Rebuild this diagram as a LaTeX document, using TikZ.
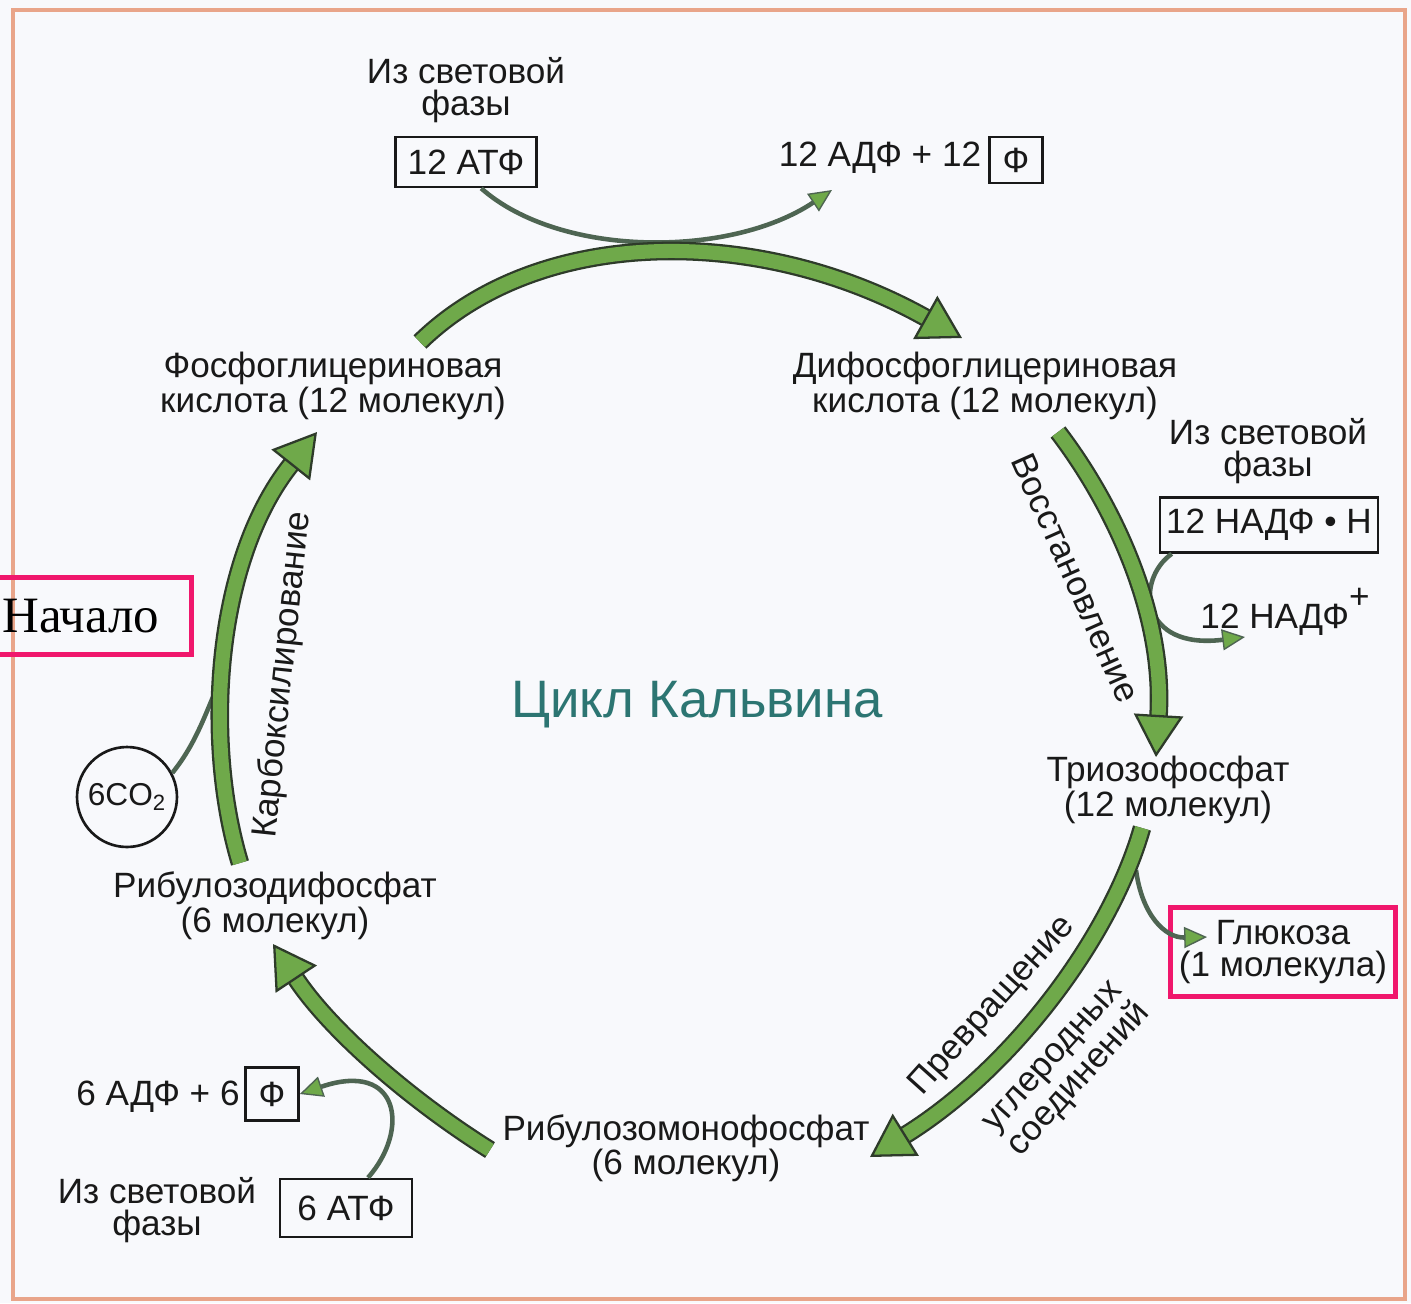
\documentclass[tikz,border=0pt]{standalone}
\usepackage{fontspec}
\setmainfont{Liberation Sans}
\newfontfamily\serifstart{Liberation Serif}
\usetikzlibrary{arrows.meta}
\definecolor{bandgreen}{HTML}{6FA94A}
\definecolor{bandedge}{HTML}{2E3B2A}
\definecolor{sidegray}{HTML}{4E6552}
\definecolor{cycleteal}{HTML}{2C7572}
\definecolor{markpink}{HTML}{F0176C}
\definecolor{framesalmon}{HTML}{E9A58A}
\definecolor{paper}{HTML}{F8F9FC}

\begin{document}
\begin{tikzpicture}[
        x=0.02cm,
        y=-0.02cm,
        every node/.style={font=\fontsize{20}{18}\selectfont, text=black!90},
        compound/.style={
            align=center,
            inner sep=1pt
        },
        energybox/.style={
            draw=black!90,
            line width=1.5pt,
            inner sep=0pt,
            minimum height=1cm
        },
        bigarrow/.style={
            draw=bandedge,
            line width=1.3pt,
            double=bandgreen,
            double distance=8pt,
            -{Triangle[length=24pt, width=28pt, fill=bandgreen,
              color=bandedge, line width=1.3pt]}
        },
        sidearrow/.style={
            draw=sidegray,
            line width=2.6pt,
            -{Triangle[length=13pt, width=12pt, fill=bandgreen,
              color=sidegray, line width=0.8pt]}
        },
        coline/.style={
            draw=sidegray,
            line width=2.6pt
        }
    ]
        \useasboundingbox (0,0) rectangle (1411,1303);
        \fill[paper] (0,0) rectangle (1411,1303);
        \draw[framesalmon, line width=2pt] (13,10) rectangle (1405,1299);

        % Top: ATP from the light phase
        \node[compound] (light1) at (466,90) {Из световой\\фазы};
        \node[energybox, minimum width=2.82cm] (atp12) at (466,162) {12 АТФ};
        \node[compound] (adp12) at (880,158) {12 АДФ + 12};
        \node[energybox, minimum width=1.06cm, minimum height=0.92cm]
            (phi12) at (1016,160) {Ф};

        % Compounds of the cycle
        \node[compound] (pga) at (333,386)
            {Фосфоглицериновая\\кислота (12 молекул)};
        \node[compound] (dpga) at (985,386)
            {Дифосфоглицериновая\\кислота (12 молекул)};
        \node[compound] (triose) at (1168,790)
            {Триозофосфат\\(12 молекул)};
        \node[compound] (rump) at (686,1148)
            {Рибулозомонофосфат\\(6 молекул)};
        \node[compound] (rudp) at (275,906)
            {Рибулозодифосфат\\(6 молекул)};

        % Right: NADPH from the light phase
        \node[compound] (light2) at (1268,451) {Из световой\\фазы};
        \node[energybox, minimum width=4.36cm, minimum height=1.1cm]
            (nadph) at (1269,525) {12 НАДФ • Н};
        \node[compound] (nadp) at (1285,612) {12 НАДФ\raisebox{0.55em}{+}};

        \node[compound, draw=markpink, line width=2.4pt,
            minimum width=4.5cm, minimum height=1.78cm]
            (glucose) at (1283,952) {Глюкоза\\(1 молекула)};

        % Bottom left: ATP from the light phase
        \node[compound] (adp6) at (158,1097) {6 АДФ + 6};
        \node[energybox, minimum width=1.06cm, minimum height=1.06cm]
            (phi6) at (272,1094) {Ф};
        \node[energybox, minimum width=2.64cm, minimum height=1.16cm]
            (atp6) at (346,1208) {6 АТФ};
        \node[compound] (light3) at (157,1210) {Из световой\\фазы};

        \node[draw=black!90, circle, line width=1.5pt, minimum size=2cm,
            inner sep=0pt, font=\fontsize{18}{18}\selectfont]
            (co2) at (127,797) {6CO\textsubscript{2}};

        \node[font=\fontsize{30}{30}\selectfont, text=cycleteal]
            (cycle) at (697,705) {Цикл Кальвина};

        \node[draw=markpink, line width=2.4pt, text=black,
            font=\fontsize{29}{29}\selectfont\serifstart,
            text width=3.62cm, align=left, inner xsep=0.16cm,
            minimum height=1.54cm]
            (start) at (93,616) {Начало};

        % Free ends of the arrows
        \coordinate (pgaout) at (420,342);
        \coordinate (dpgain) at (962,338);
        \coordinate (adpin) at (832,190);
        \coordinate (dpgaout) at (1058,432);
        \coordinate (triosein) at (1156,757);
        \coordinate (nadpin) at (1245,637);
        \coordinate (trioseout) at (1142,828);
        \coordinate (rumpin) at (870,1157);
        \coordinate (glcfork) at (1136,870);
        \coordinate (glcin) at (1207,937);
        \coordinate (rumpout) at (490,1150);
        \coordinate (rudpin) at (273,944);
        \coordinate (rudpout) at (240,863);
        \coordinate (pgain) at (317,432);
        \coordinate (co2join) at (216,690);

        % Side reactions
        \draw[sidearrow] (atp12.-60)
            .. controls (560,258) and (730,258) .. (adpin);
        \draw[sidearrow] ([xshift=0.26cm]nadph.south west)
            .. controls (1135,580) and (1140,650) .. (nadpin);
        \draw[sidearrow] (glcfork)
            .. controls (1142,915) and (1165,938) .. (glcin);
        \draw[sidearrow] ([xshift=0.44cm]atp6.north)
            .. controls (410,1130) and (400,1060) .. (phi6.east);
        \draw[coline] (co2.28)
            .. controls (195,745) and (205,715) .. (co2join);

        % The cycle
        \draw[bigarrow] (pgaout)
            .. controls (540,225) and (760,225) .. (dpgain);
        \draw[bigarrow] (dpgaout)
            .. controls (1110,500) and (1165,610) .. (triosein);
        \draw[bigarrow] (trioseout)
            .. controls (1110,940) and (1010,1070) .. (rumpin);
        \draw[bigarrow] (rumpout)
            .. controls (410,1100) and (330,1030) .. (rudpin);
        \draw[bigarrow] (rudpout)
            .. controls (203,740) and (215,560) .. (pgain);

        % Labels along the arrows
        \node[compound, rotate=84] (carbox) at (283,675) {Карбоксилирование};
        \node[compound, rotate=-66] (reduct) at (1076,578) {Восстановление};
        \node[compound, rotate=48] (convert) at (993,1006) {Превращение};
        \node[compound, rotate=48] (carbon) at (1068,1070)
            {углеродных\\соединений};
    \end{tikzpicture}
\end{document}
